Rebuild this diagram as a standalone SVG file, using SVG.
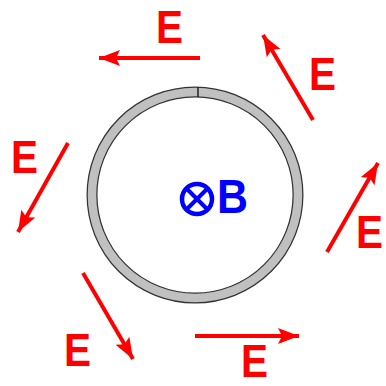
<svg xmlns="http://www.w3.org/2000/svg" width="386" height="386" viewBox="0 0 386 386">
<style>
.e{fill:#ff0000;font-family:"Liberation Sans",Arial,sans-serif;font-weight:bold;font-size:46px}
.a{stroke:#ff0000;stroke-width:4;fill:none;marker-end:url(#h)}
</style>
<defs>
<marker id="h" markerUnits="userSpaceOnUse" markerWidth="24" markerHeight="18" refX="21" refY="8" orient="auto">
<path d="M0,0 L21,8 L0,16 L4,8 Z" fill="#ff0000"/>
</marker>
</defs>
<rect width="386" height="386" fill="#fff"/>
<g id="ring">
<circle cx="195" cy="195" r="103" fill="none" stroke="#333" stroke-width="11"/>
<circle cx="195" cy="195" r="103" fill="none" stroke="#c0c0c0" stroke-width="8.5"/>
<line x1="198" y1="87" x2="198" y2="97" stroke="#222" stroke-width="1.5"/>
</g>
<g id="B">
<circle cx="197" cy="199" r="15" fill="none" stroke="#0000ff" stroke-width="4.5"/>
<line x1="187" y1="189" x2="207" y2="209" stroke="#0000ff" stroke-width="4"/>
<line x1="207" y1="189" x2="187" y2="209" stroke="#0000ff" stroke-width="4"/>
<text x="217" y="213" fill="#0000ff" font-family="Liberation Sans,Arial,sans-serif" font-weight="bold" font-size="48" textLength="31" lengthAdjust="spacingAndGlyphs">B</text>
</g>
<g id="connectors">
<line class="a" x1="200" y1="58" x2="99" y2="58"/>
<line class="a" x1="313" y1="120" x2="263" y2="35"/>
<line class="a" x1="68" y1="143" x2="18" y2="232"/>
<line class="a" x1="83" y1="273" x2="133" y2="359"/>
<line class="a" x1="195" y1="336" x2="299" y2="336"/>
<line class="a" x1="327" y1="252" x2="378" y2="163"/>
</g>
<g id="labels">
<text class="e" x="156" y="43" textLength="27" lengthAdjust="spacingAndGlyphs">E</text>
<text class="e" x="309" y="90" textLength="27" lengthAdjust="spacingAndGlyphs">E</text>
<text class="e" x="11" y="173" textLength="27" lengthAdjust="spacingAndGlyphs">E</text>
<text class="e" x="64" y="366" textLength="27" lengthAdjust="spacingAndGlyphs">E</text>
<text class="e" x="241" y="377" textLength="27" lengthAdjust="spacingAndGlyphs">E</text>
<text class="e" x="356" y="248" textLength="27" lengthAdjust="spacingAndGlyphs">E</text>
</g>
</svg>
